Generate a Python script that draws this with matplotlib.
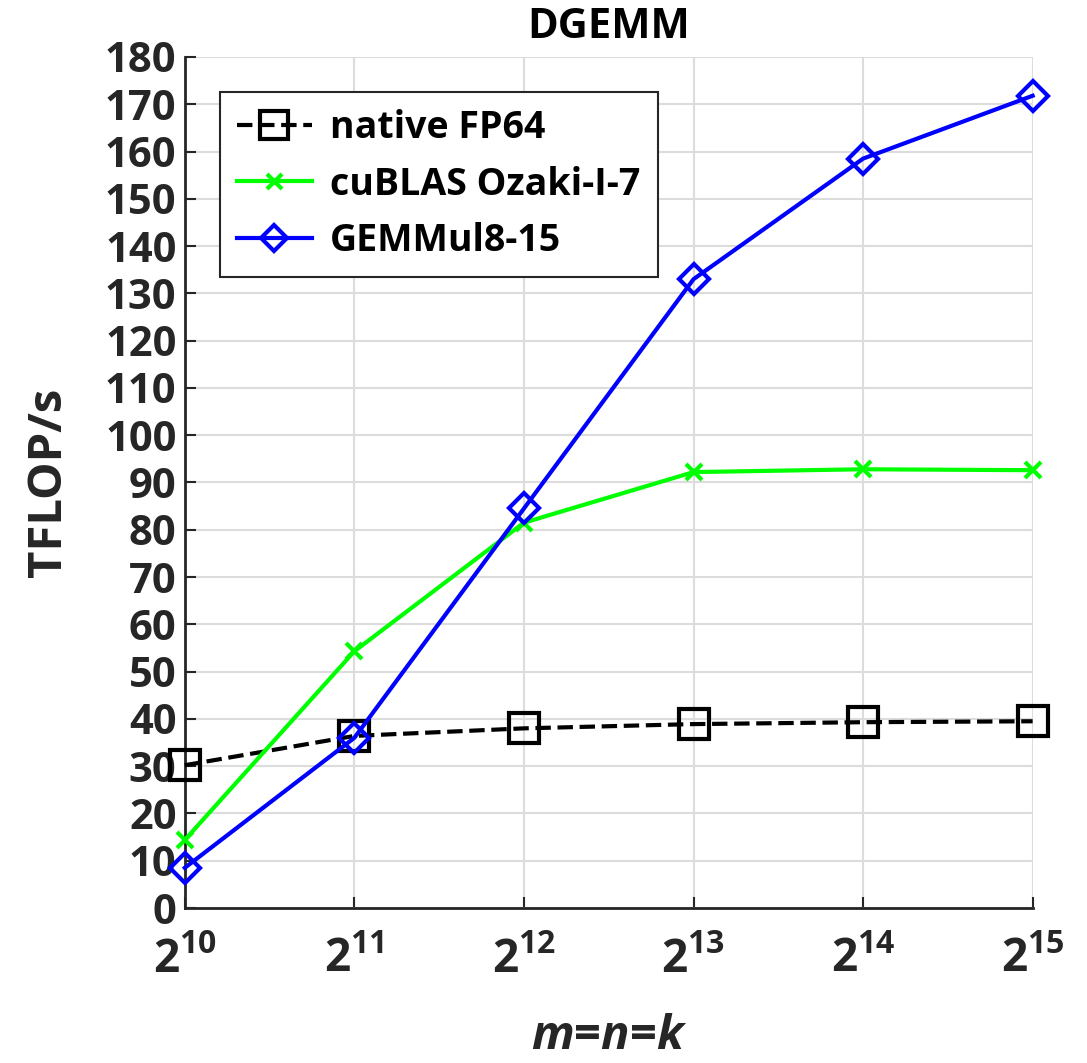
import matplotlib
matplotlib.use('Agg')
import matplotlib.pyplot as plt
import numpy as np

plt.rcParams['font.family'] = ['Open Sans', 'DejaVu Sans']
plt.rcParams['font.weight'] = 'bold'
plt.rcParams['mathtext.fontset'] = 'custom'
plt.rcParams['mathtext.rm'] = 'Open Sans:bold'
plt.rcParams['mathtext.it'] = 'Open Sans:italic:bold'
plt.rcParams['mathtext.bf'] = 'Open Sans:bold'

# data
exponents = [10, 11, 12, 13, 14, 15]
native_fp64 = [30.2, 36.4, 38.0, 38.9, 39.3, 39.5]
cublas_ozaki = [14.4, 54.3, 81.5, 92.2, 92.8, 92.6]
gemmul8 = [8.5, 36.0, 84.5, 133.0, 158.5, 171.8]

x = np.array(exponents)

fig = plt.figure(figsize=(10.87, 10.63), dpi=100)
ax = fig.add_axes([0.170, 0.1458, 0.780, 0.8006])

ax.plot(x, native_fp64, '--s', color='black', lw=3, ms=22, mfc='none', mew=3,
        label='native FP64', clip_on=False, zorder=3)
ax.plot(x, cublas_ozaki, '-x', color='#00ff00', lw=3, ms=12, mew=3,
        label='cuBLAS Ozaki-I-7', clip_on=False, zorder=3)
ax.plot(x, gemmul8, '-D', color='#0000ff', lw=3, ms=15, mfc='none', mew=3,
        label='GEMMul8-15', clip_on=False, zorder=3)

ax.set_xlim(10, 15)
ax.set_ylim(0, 180)
ax.set_xticks(x)
ax.set_xticklabels([r'$2^{%d}$' % e for e in exponents])
ax.set_yticks(np.arange(0, 181, 10))
ax.tick_params(axis='both', direction='in', length=8, width=1.5, labelsize=30,
               colors='#262626', labelcolor='#262626')
ax.tick_params(axis='y', pad=6)
ax.tick_params(axis='x', pad=20, labelsize=33)
ax.grid(True, color='#dcdcdc', lw=1.5)
ax.set_axisbelow(True)
for s in ['top', 'right']:
    ax.spines[s].set_visible(False)
for s in ['left', 'bottom']:
    ax.spines[s].set_linewidth(2)
    ax.spines[s].set_color('#262626')

ax.set_title('DGEMM', fontsize=30, fontweight='bold', pad=14)
ax.set_ylabel('TFLOP/s', fontsize=34, fontweight='bold', color='#262626', labelpad=24)
ax.set_xlabel('$m$=$n$=$k$', fontsize=34, fontweight='bold', color='#262626', labelpad=22)

leg = ax.legend(loc='upper left', bbox_to_anchor=(0.019, 0.981), fontsize=27,
                frameon=True, fancybox=False, edgecolor='#262626', framealpha=1,
                handlelength=2.0, borderpad=0.45, labelspacing=0.5, handletextpad=0.5)
leg.get_frame().set_linewidth(1.5)
for h in leg.legend_handles:
    h.set_markersize(h.get_markersize() * 0.9)

fig.savefig('out.png', dpi=100)
